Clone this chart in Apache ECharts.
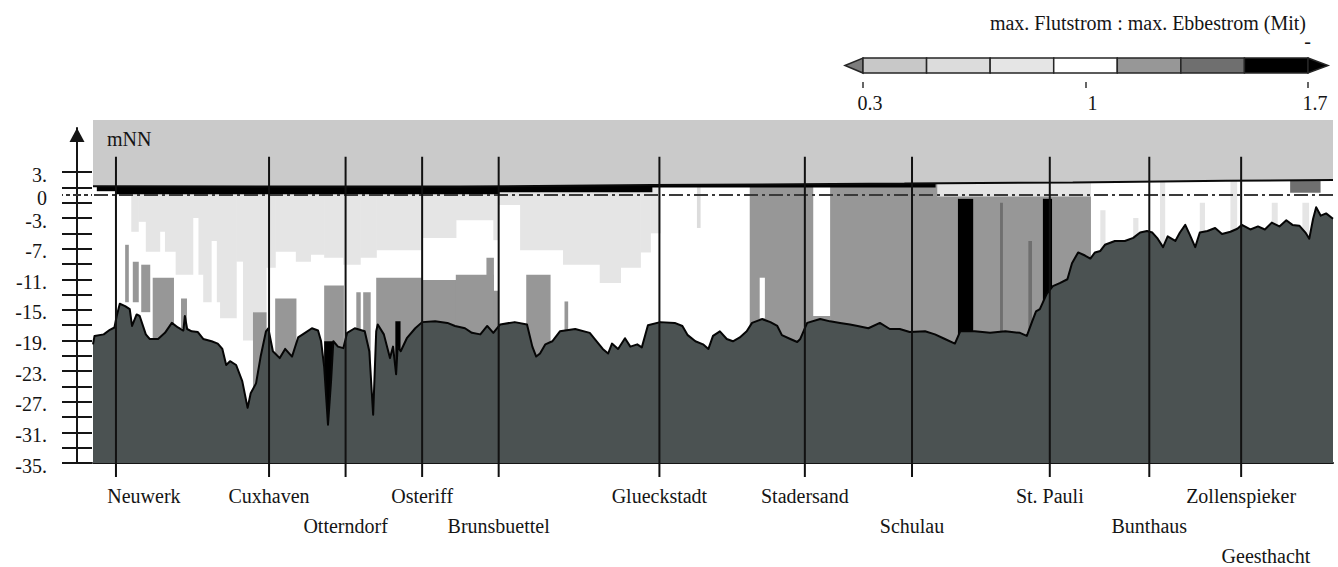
<!DOCTYPE html>
<html>
<head>
<meta charset="utf-8">
<script src="https://cdn.jsdelivr.net/npm/echarts@6/dist/echarts.min.js"></script>
<style>
  html, body { margin: 0; padding: 0; background: #fff; }
  #chart { width: 1338px; height: 567px; }
</style>
</head>
<body>
<div id="chart"></div>
<script>
// Gauge stations along the tidal Elbe (Elbe-km, seaward on the left)
const stations = ['Neuwerk', 'Cuxhaven', 'Otterndorf', 'Osteriff', 'Brunsbuettel', 'Glueckstadt',
                  'Stadersand', 'Schulau', 'St. Pauli', 'Bunthaus', 'Zollenspieker', 'Geesthacht'];
const stationKm = [745, 725, 715, 705, 695, 674, 655, 641, 623, 610, 598, 586];
// label line under the section and horizontal nudge (px)
const stationLabelRow = [0, 0, 1, 0, 1, 0, 0, 1, 0, 1, 0, 2];
const stationLabelShift = [28, 0, 0, 0, 0, 0, 0, 0, 0, 0, 0, -67];

// Ratio classes max. Flutstrom : max. Ebbestrom
const classBreaks = [0.3, 0.5, 0.7, 0.9, 1.1, 1.3, 1.5, 1.7];
const classColors = ['#7d7d7d', '#c8c8c8', '#dcdcdc', '#e5e5e5', '#ffffff',
                     '#979797', '#6f6f6f', '#000000', '#000000'];
const legendTicks = [0.3, 1, 1.7];

// Vertical axis (m NN)
const depthMin = -35, depthMax = 9.8;
const depthTicks = [-35, -33, -31, -29, -27, -25, -23, -21, -19, -17, -15, -13, -11, -9, -7, -5, -3, -1, 1, 3];
const depthLabels = [3, 0, -3, -7, -11, -15, -19, -23, -27, -31, -35];
const stationMarkTop = 5;
const kmMin = 586, kmMax = 748;

// Mean tidal high water [km, mNN]
const highWater = [[748, 1.15], [700, 1.1], [675, 1.3], [642, 1.5], [620, 1.65], [600, 1.85], [586, 1.97]];

// River bed along the fairway [km, mNN]
const bedProfile = [
  [748.0,-19.5],[747.8,-18.4],[746.6,-18.2],[745.8,-17.6],[745.2,-17.3],[744.9,-15.8],[744.5,-14.2],[743.8,-14.5],
  [743.2,-14.9],[742.9,-17.1],[742.3,-15.6],[741.9,-15.8],[741.1,-18.2],[740.6,-18.8],[739.5,-18.8],[738.6,-18.0],
  [737.7,-16.7],[736.9,-17.3],[736.2,-17.7],[736.0,-15.8],[735.7,-17.5],[735.1,-17.8],[734.3,-17.9],[733.6,-18.8],
  [732.5,-19.1],[731.7,-19.4],[731.1,-20.1],[730.6,-22.2],[730.1,-21.7],[729.3,-22.2],[728.5,-24.3],[727.8,-27.8],
  [727.4,-25.9],[726.7,-24.6],[726.1,-21.1],[725.4,-17.8],[725.1,-17.4],[724.5,-20.4],[723.6,-21.3],[722.9,-20.1],
  [722.0,-21.1],[721.2,-18.6],[720.3,-18.0],[719.4,-17.4],[718.6,-17.7],[718.2,-19.1],[717.8,-22.4],[717.3,-30.0],
  [716.9,-24.3],[716.6,-19.1],[716.0,-19.8],[715.3,-20.0],[714.8,-18.0],[713.8,-17.4],[712.5,-17.8],[711.9,-20.4],
  [711.4,-28.7],[711.0,-17.8],[710.8,-16.9],[710.0,-18.2],[709.2,-21.3],[708.8,-19.8],[708.4,-23.4],[708.2,-19.8],
  [707.8,-20.4],[707.0,-18.7],[705.9,-17.4],[705.0,-16.6],[703.3,-16.5],[701.7,-16.7],[700.7,-17.1],[699.4,-17.4],
  [698.5,-18.0],[697.4,-18.2],[696.5,-17.1],[695.7,-18.0],[694.8,-16.9],[692.9,-16.6],[691.3,-16.9],[690.6,-19.8],
  [690.1,-21.1],[689.6,-20.7],[688.9,-19.5],[688.0,-19.1],[687.0,-17.8],[685.0,-17.5],[683.1,-18.0],[682.2,-19.1],
  [681.4,-20.1],[680.7,-20.7],[680.2,-19.4],[679.4,-20.1],[678.5,-18.7],[677.8,-19.8],[676.9,-19.5],[676.3,-19.9],
  [675.5,-17.0],[673.9,-16.6],[672.0,-16.7],[671.0,-17.1],[670.3,-18.3],[669.3,-19.1],[668.3,-19.5],[667.6,-20.1],
  [667.0,-18.4],[666.1,-17.8],[665.2,-18.8],[664.4,-19.1],[663.5,-18.6],[662.6,-17.8],[661.9,-16.7],[660.6,-16.2],
  [659.5,-16.6],[658.6,-17.1],[658.0,-18.3],[656.9,-18.8],[656.0,-19.2],[655.6,-18.8],[654.7,-16.7],[653.0,-16.2],
  [651.7,-16.5],[650.4,-16.7],[649.1,-16.9],[648.1,-17.1],[646.7,-17.4],[645.2,-16.7],[643.9,-17.5],[642.6,-17.5],
  [641.3,-17.9],[639.3,-17.8],[638.0,-18.2],[636.7,-18.8],[635.4,-19.4],[634.7,-17.8],[632.8,-17.8],[630.8,-18.0],
  [628.8,-17.8],[626.9,-18.0],[626.0,-18.4],[625.3,-16.5],[624.8,-15.2],[624.3,-14.9],[623.4,-12.9],[622.6,-11.9],
  [621.7,-11.5],[620.7,-11.0],[620.1,-8.9],[619.3,-7.5],[618.4,-7.9],[617.7,-8.3],[617.1,-7.5],[616.4,-7.3],
  [615.8,-6.5],[614.5,-6.0],[613.2,-6.0],[612.1,-5.6],[611.2,-4.9],[610.3,-4.7],[609.6,-4.9],[608.9,-5.7],
  [608.2,-6.8],[607.6,-5.4],[606.6,-6.0],[606.0,-4.9],[605.3,-3.9],[604.7,-5.2],[604.0,-6.8],[603.4,-4.9],
  [602.4,-4.7],[601.4,-4.3],[600.5,-5.1],[599.4,-4.8],[598.5,-4.4],[597.9,-3.9],[596.8,-4.5],[595.8,-4.1],
  [594.9,-4.5],[594.0,-3.6],[593.0,-4.1],[592.1,-3.3],[591.3,-3.9],[590.4,-4.0],[589.6,-4.9],[589.1,-5.7],
  [588.6,-3.1],[588.2,-1.6],[587.6,-2.7],[586.9,-2.4],[586.0,-3.1]
];

// Ratio cells [km from, km to, top mNN, bottom mNN, class]; later cells are drawn over earlier ones,
// cells reach down below the bed, which masks them
const ratioCells = [
  [748, 586, 3, -35, 4],
  // Neuwerk - Cuxhaven
  [743.0, 742.1, 3, -4.8, 3],
  [742.1, 741.1, 3, -3.5, 3],
  [741.1, 739.3, 3, -7.4, 3],
  [739.3, 738.6, 3, -4.8, 3],
  [738.6, 737.2, 3, -7.4, 3],
  [737.2, 733.6, 3, -10.4, 3],
  [733.6, 731.4, 3, -14.0, 3],
  [731.4, 729.3, 3, -16.1, 3],
  [729.3, 728.4, 3, -8.7, 3],
  [728.4, 727.1, 3, -19.0, 3],
  [727.1, 725.4, 3, -15.3, 3], [727.1, 725.4, -15.3, -35, 5],
  [734.9, 734.3, -3.0, -35, 4], [732.5, 731.9, -6.0, -35, 4],
  [743.8, 743.4, -6.5, -14.0, 5],
  [742.8, 742.1, -8.7, -14.0, 5],
  [741.7, 740.6, -9.1, -15.3, 5],
  [740.2, 737.5, -10.8, -35, 5],
  [736.5, 735.8, -13.5, -17.4, 5],
  // Cuxhaven - Otterndorf
  [725.4, 724.2, 3, -9.5, 3],
  [724.2, 721.5, 3, -7.4, 3], [724.2, 721.5, -13.5, -35, 5],
  [721.5, 719.6, 3, -8.7, 3],
  [719.6, 717.8, 3, -7.8, 3],
  [717.8, 715.3, 3, -8.2, 3], [717.8, 715.3, -11.8, -35, 5],
  [717.8, 716.6, -19.1, -35, 7],
  // Otterndorf - Osteriff
  [715.3, 713.1, 3, -9.1, 3], [713.6, 713.1, -12.7, -35, 5],
  [713.1, 711.0, 3, -8.2, 3], [712.7, 711.8, -12.7, -35, 5],
  [711.0, 705.1, 3, -7.2, 3], [711.0, 705.1, -10.8, -35, 5],
  [708.5, 707.9, -16.5, -35, 7],
  // Osteriff - Brunsbuettel
  [705.1, 700.6, 3, -5.6, 3], [705.1, 700.6, -11.1, -35, 5],
  [700.6, 695.7, 3, -3.3, 3], [700.6, 695.7, -10.4, -35, 5], [696.6, 695.7, -8.2, -35, 5],
  [695.7, 695.1, 3, -5.9, 3], [695.7, 695.1, -12.5, -35, 5],
  // Brunsbuettel - Glueckstadt
  [695.1, 692.2, 3, -1.3, 3],
  [692.2, 686.6, 3, -7.2, 3], [691.4, 688.3, -10.4, -35, 5],
  [686.6, 681.8, 3, -9.1, 3], [686.4, 686.0, -13.9, -17.8, 5],
  [681.8, 679.1, 3, -11.5, 3],
  [679.1, 676.5, 3, -9.5, 3],
  [676.5, 675.2, 3, -7.5, 3],
  [675.2, 673.9, 3, -5.0, 3],
  [669.1, 668.7, 3, -4.3, 2],
  // Stadersand - St. Pauli
  [662.2, 653.9, 3, -35, 5], [660.9, 660.3, -10.8, -16.1, 4],
  [653.9, 651.7, 3, -15.8, 4], [653.9, 651.7, -15.8, -35, 5],
  [651.7, 635.0, 3, -35, 5],
  [635.0, 633.0, 3, -0.5, 5], [635.0, 633.0, -0.5, -35, 7],
  [633.0, 623.9, 3, -35, 5], [629.5, 629.2, -1, -35, 6], [625.8, 625.4, -6, -35, 6],
  [623.9, 622.7, 3, -0.5, 5], [623.9, 622.7, -0.5, -35, 7],
  [622.7, 617.7, 3, -35, 5],
  [637.7, 617.7, 3, -0.2, 3],
  // upper reach
  [616.4, 615.8, -2, -35, 3], [612.1, 611.5, -3, -35, 3], [608.6, 608.0, 3, -35, 3],
  [603.4, 602.8, -1, -35, 3], [599.4, 598.6, 3, -35, 3], [594.0, 593.3, -1, -35, 3],
  [590.0, 589.2, -1, -35, 3],
  [591.6, 587.7, 3, 0.3, 6],
  // near-surface layer
  [747.5, 745.1, 3, 0.5, 7], [745.1, 695.0, 3, 0.1, 7], [695.0, 675.0, 3, 0.35, 7], [675.0, 638.0, 3, 1.0, 7]
];

const FONT = 'Liberation Serif';
const INK = '#151515';

const legendItems = classColors.map((c, i) => [
  classBreaks[Math.max(i - 1, 0)],
  classBreaks[Math.min(i, classBreaks.length - 1)],
  i
]);

const chart = echarts.init(document.getElementById('chart'), null, { renderer: 'svg' });

const depthAxisBase = {
  type: 'value', gridIndex: 0, position: 'left', offset: 16,
  min: depthMin, max: depthMax,
  axisLine: { show: false },
  splitLine: { show: false },
  axisLabel: { show: false }
};

chart.setOption({
  animation: false,
  backgroundColor: '#ffffff',
  textStyle: { fontFamily: FONT },
  title: [
    { text: 'mNN', left: 107, top: 129, padding: 0,
      textStyle: { fontFamily: FONT, fontSize: 20, fontWeight: 'normal', color: INK } },
    { text: 'max. Flutstrom : max. Ebbestrom (Mit)', right: 32, top: 13, padding: 0,
      textStyle: { fontFamily: FONT, fontSize: 20, fontWeight: 'normal', color: INK } },
    { text: '-', right: 27, top: 31, padding: 0,
      textStyle: { fontFamily: FONT, fontSize: 20, fontWeight: 'normal', color: INK } }
  ],
  grid: [
    { left: 93, right: 5, top: 120, bottom: 104, outerBoundsMode: 'none' },
    { left: 863, width: 445, top: 58, height: 15, outerBoundsMode: 'none' },
    { left: 93, right: 5, top: 128, bottom: 104, outerBoundsMode: 'none' }
  ],
  xAxis: [
    { type: 'value', gridIndex: 0, min: kmMin, max: kmMax, inverse: true,
      axisLine: { show: true, onZero: false, lineStyle: { color: INK, width: 2 } },
      axisTick: { show: false }, axisLabel: { show: false }, splitLine: { show: false } },
    { type: 'value', gridIndex: 1, min: classBreaks[0], max: classBreaks[classBreaks.length - 1],
      position: 'bottom', offset: 9,
      axisLine: { show: false, onZero: false },
      axisTick: { show: true, customValues: legendTicks, length: 6, lineStyle: { color: '#333', width: 1.5 } },
      axisLabel: { show: true, customValues: legendTicks, margin: 11, padding: [0, 0, 0, 14],
        fontFamily: FONT, fontSize: 20, color: INK, formatter: v => String(v) },
      splitLine: { show: false } },
    { type: 'value', gridIndex: 2, min: kmMin, max: kmMax, show: false }
  ],
  yAxis: [
    Object.assign({}, depthAxisBase, {
      axisTick: { show: true, customValues: depthTicks, length: 15, lineStyle: { color: INK, width: 2 } },
      axisLabel: { show: true, customValues: depthLabels, margin: 30,
        verticalAlign: 'top', lineHeight: 5,
        fontFamily: FONT, fontSize: 20, color: INK,
        formatter: v => (v === 0 ? '0' : v + '.') }
    }),
    Object.assign({}, depthAxisBase, {
      axisTick: { show: true, inside: true, customValues: depthTicks, length: 15, lineStyle: { color: INK, width: 2 } }
    }),
    Object.assign({}, depthAxisBase, {
      axisTick: { show: true, customValues: [0], length: 15, lineStyle: { color: '#333', width: 2, type: [4, 3] } }
    }),
    Object.assign({}, depthAxisBase, {
      axisTick: { show: true, inside: true, customValues: [0], length: 15, lineStyle: { color: '#333', width: 2, type: [4, 3] } }
    }),
    { type: 'value', gridIndex: 1, min: 0, max: 1, show: false },
    { type: 'value', gridIndex: 2, position: 'left', offset: 16, min: depthMin, max: depthMax,
      axisLine: { show: true, symbol: ['none', 'triangle'], symbolSize: [15, 14], symbolOffset: [0, -7],
        lineStyle: { color: INK, width: 2 } },
      axisTick: { show: false }, axisLabel: { show: false }, splitLine: { show: false } }
  ],
  series: [
    {
      // ratio cells along the section
      type: 'custom', xAxisIndex: 0, yAxisIndex: 0, z: 1, clip: true, silent: true,
      data: ratioCells,
      encode: { x: [0, 1], y: [2, 3] },
      renderItem: function (params, api) {
        const a = api.coord([api.value(0), api.value(2)]);
        const b = api.coord([api.value(1), api.value(3)]);
        return {
          type: 'rect',
          shape: { x: Math.min(a[0], b[0]), y: Math.min(a[1], b[1]),
                   width: Math.abs(b[0] - a[0]) + 0.6, height: Math.abs(b[1] - a[1]) },
          style: { fill: classColors[api.value(4)] }
        };
      }
    },
    {
      // high water line; everything above it is air
      type: 'line', xAxisIndex: 0, yAxisIndex: 0, z: 2, silent: true,
      data: highWater, showSymbol: false, symbol: 'none',
      lineStyle: { color: '#0a0a0a', width: 2 },
      areaStyle: { color: '#cacaca', opacity: 1, origin: 'end' },
      markLine: {
        silent: true, symbol: 'none', label: { show: false },
        lineStyle: { color: '#3a3a3a', width: 2, type: [14, 4, 3, 4] },
        data: [{ yAxis: 0 }]
      }
    },
    {
      // river bed
      type: 'line', xAxisIndex: 0, yAxisIndex: 0, z: 3, silent: true,
      data: bedProfile, showSymbol: false, symbol: 'none',
      lineStyle: { color: '#050505', width: 2, join: 'round' },
      areaStyle: { color: '#4b5252', opacity: 1, origin: 'start' }
    },
    {
      // stations: vertical marks and names
      type: 'custom', xAxisIndex: 0, yAxisIndex: 0, z: 5, silent: true, clip: false,
      data: stationKm.map((km, i) => [km, i]),
      encode: { x: 0 },
      renderItem: function (params, api) {
        const km = api.value(0), i = api.value(1);
        const top = api.coord([km, stationMarkTop]);
        const bottom = api.coord([km, depthMin]);
        const children = [];
        if (km > kmMin) {
          children.push({ type: 'line',
            shape: { x1: top[0], y1: top[1], x2: top[0], y2: bottom[1] + 14 },
            style: { stroke: '#111', lineWidth: 2 } });
        }
        children.push({ type: 'text',
          style: { text: stations[i], x: top[0] + stationLabelShift[i],
                   y: bottom[1] + 33 + 30 * stationLabelRow[i],
                   align: 'center', verticalAlign: 'middle',
                   font: '20px "' + FONT + '"', fill: INK } });
        return { type: 'group', children: children };
      }
    },
    {
      // colour key
      type: 'custom', xAxisIndex: 1, yAxisIndex: 4, z: 5, silent: true, clip: false,
      data: legendItems,
      encode: { x: [0, 1] },
      renderItem: function (params, api) {
        const lo = api.value(0), hi = api.value(1), cls = api.value(2);
        const p0 = api.coord([lo, 1]);
        const p1 = api.coord([hi, 0]);
        const yTop = p0[1], yBot = p1[1], yMid = (yTop + yBot) / 2;
        const style = { fill: classColors[cls], stroke: '#262626', lineWidth: 1.5 };
        if (cls === 0) {
          return { type: 'polygon', shape: { points: [[p0[0] - 18, yMid], [p0[0], yTop], [p0[0], yBot]] }, style: style };
        }
        if (cls === classColors.length - 1) {
          return { type: 'polygon', shape: { points: [[p0[0], yTop], [p0[0] + 20, yMid], [p0[0], yBot]] }, style: style };
        }
        return { type: 'rect', shape: { x: p0[0], y: yTop, width: p1[0] - p0[0], height: yBot - yTop }, style: style };
      }
    }
  ]
});
</script>
</body>
</html>
